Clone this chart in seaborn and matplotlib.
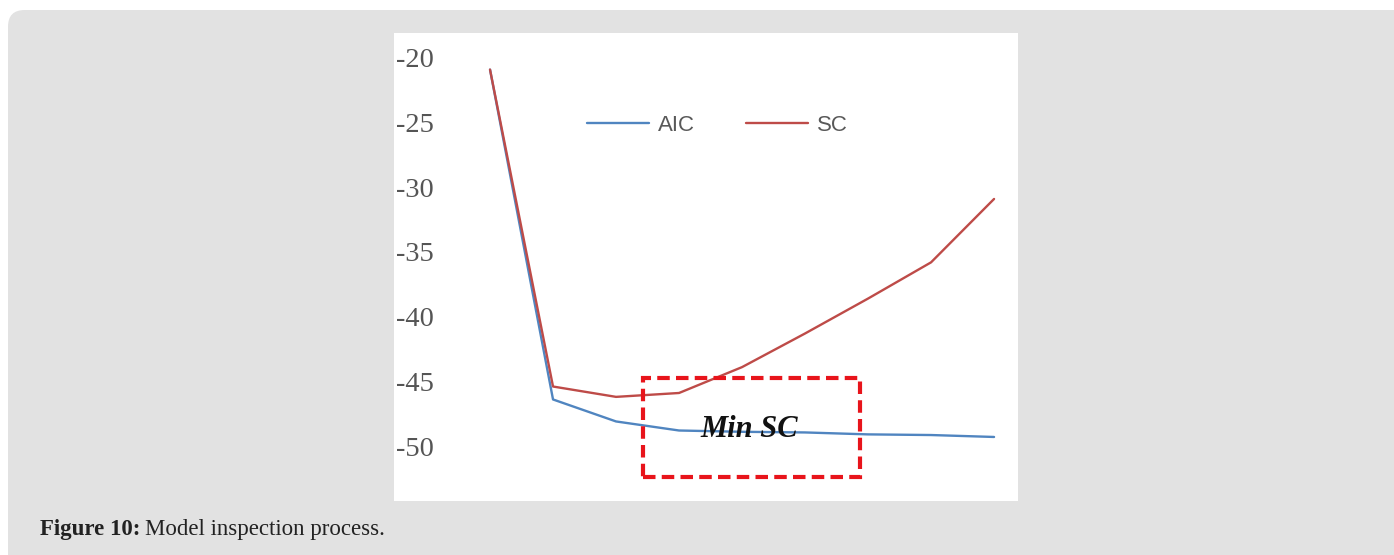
import pandas as pd
import numpy as np
import matplotlib
matplotlib.use('Agg')
import matplotlib.pyplot as plt
import seaborn as sns
from matplotlib.patches import FancyBboxPatch, Rectangle

# data
lags = [1, 2, 3, 4, 5, 6, 7, 8, 9]
aic = [-20.9, -46.4, -48.1, -48.8, -48.9, -48.95, -49.1, -49.15, -49.3]
sc = [-20.9, -45.4, -46.2, -45.9, -43.9, -41.3, -38.6, -35.8, -30.9]
y_ticks = [-20, -25, -30, -35, -40, -45, -50]

df = pd.DataFrame({'lag': lags * 2,
                   'value': aic + sc,
                   'series': ['AIC'] * len(lags) + ['SC'] * len(lags)})

sns.set_style('white')
W, H = 1394, 555
fig = plt.figure(figsize=(W / 100, H / 100), dpi=100, facecolor='white')

# grey rounded panel behind everything
bg = FancyBboxPatch((8 / W, 10 / H), 1.2, 1.2, boxstyle='round,pad=0,rounding_size=0.012',
                    transform=fig.transFigure, facecolor='#e2e2e2', edgecolor='none',
                    mutation_aspect=W / H, zorder=-10)
fig.patches.append(bg)
bg.set_bounds(8 / W, -0.5, 2, (H - 10) / H + 0.5)

ax = fig.add_axes([394 / W, (H - 501) / H, 624 / W, 468 / H])
ax.set_facecolor('white')

sns.lineplot(data=df, x='lag', y='value', hue='series',
             palette={'AIC': '#5085c0', 'SC': '#be4b48'}, linewidth=1.7, ax=ax)

ax.set_xlim(-0.524, 9.38)
ax.set_ylim(-54.25, -18.07)
ax.set_xticks([])
ax.set_yticks(y_ticks)
ax.set_yticklabels([str(t) for t in y_ticks], family='Liberation Serif', fontsize=20.5, color='#555555')
ax.tick_params(axis='y', length=0, pad=-28.5)
ax.set_xlabel('')
ax.set_ylabel('')
for s in ax.spines.values():
    s.set_visible(False)

handles, labels = ax.get_legend_handles_labels()
ax.legend(handles, labels, loc='center', bbox_to_anchor=(0.518, 0.803), ncol=2, frameon=False,
          handlelength=2.8, handletextpad=0.4, columnspacing=2.3,
          prop={'family': 'Liberation Sans', 'size': 16}, labelcolor='#595959')

# red dashed box marking the SC minimum
ax.add_patch(Rectangle((3.43, -52.4), 3.44, 7.65, fill=False, edgecolor='#e8141b',
                       linewidth=3, linestyle=(0, (3, 1.5)), zorder=5))
ax.text(5.11, -48.7, 'Min SC', ha='center', va='center', fontsize=22, fontweight='bold',
        fontstyle='italic', family='Liberation Serif', color='#111111', zorder=6)

# caption
t1 = fig.text(40 / W, (H - 535) / H, 'Figure 10:', ha='left', va='baseline', fontsize=16.5,
              fontweight='bold', family='Liberation Serif', color='#222222')
r = fig.canvas.get_renderer()
bb = t1.get_window_extent(r)
fig.text((bb.x1 + 5) / W, (H - 535) / H, 'Model inspection process.', ha='left', va='baseline',
         fontsize=16.5, family='Liberation Serif', color='#222222')

fig.savefig('out.png', dpi=100, facecolor=fig.get_facecolor())
